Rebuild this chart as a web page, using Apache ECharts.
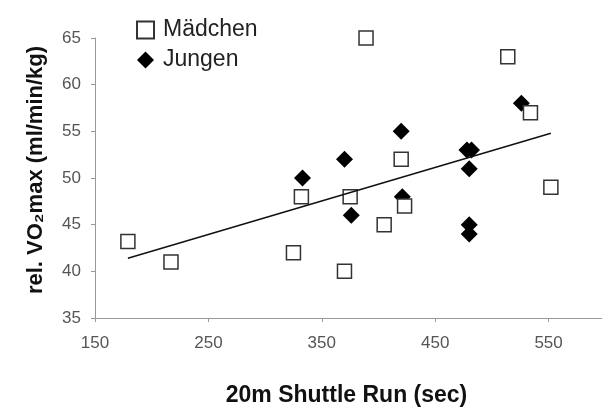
<!DOCTYPE html>
<html>
<head>
<meta charset="utf-8">
<script src="https://cdn.jsdelivr.net/npm/echarts@6/dist/echarts.min.js"></script>
<style>
  html, body { margin: 0; padding: 0; background: #fff; }
  #chart { width: 602px; height: 407px; }
</style>
</head>
<body>
<div id="chart"></div>
<script>
  // Mädchen (offene Quadrate): [Shuttle Run sec, VO2max]
  var maedchen = [
    [179, 43.2], [217, 41], [325, 42], [332, 48], [370, 40], [375, 48],
    [389, 65], [405, 45], [420, 52], [423, 47], [514, 63], [534, 57], [552, 49]
  ];
  // Jungen (Rauten)
  var jungen = [
    [333, 50], [370, 52], [376, 46], [420, 55], [421, 48],
    [478, 53], [482, 53], [480, 51], [480, 45], [480, 44], [526, 58]
  ];
  // Trendlinie, Endpunkte
  var trendX = [179, 552];
  var trendY = [41.4, 54.8];

  var xTicks = [150, 650, 100];   // min, max, interval
  var yTicks = [35, 65, 5];

  var font = 'Liberation Sans, Arial, sans-serif';

  var chart = echarts.init(document.getElementById('chart'));
  chart.setOption({
    animation: false,
    backgroundColor: '#fff',
    textStyle: { fontFamily: font },
    // rechter Rand absichtlich ausserhalb, die Achse laeuft im Original aus dem Bild
    grid: { left: 95, right: -60, top: 38, bottom: 89, outerBoundsMode: 'none' },
    legend: {
      data: ['Mädchen', 'Jungen'],
      orient: 'vertical',
      left: 131,
      top: 13,
      itemWidth: 17,
      itemHeight: 17,
      itemGap: 6,
      textStyle: { fontSize: 23, color: '#222', fontFamily: font, lineHeight: 24, padding: [0, 0, 0, 4] }
    },
    xAxis: {
      type: 'value',
      min: xTicks[0], max: xTicks[1], interval: xTicks[2],
      name: '20m Shuttle Run (sec)',
      nameLocation: 'middle',
      nameGap: 66,
      nameTextStyle: { fontSize: 23, fontWeight: 'bold', color: '#111', fontFamily: font, padding: [0, 64, 0, 0] },
      axisLine: { lineStyle: { color: '#999' } },
      axisTick: { length: 4, lineStyle: { color: '#999' } },
      axisLabel: { fontSize: 17, color: '#555', margin: 17 },
      splitLine: { show: false }
    },
    yAxis: {
      type: 'value',
      min: yTicks[0], max: yTicks[1], interval: yTicks[2],
      name: 'rel. VO₂max (ml/min/kg)',
      nameLocation: 'middle',
      nameGap: 48,
      nameTextStyle: { fontSize: 22, fontWeight: 'bold', color: '#111', fontFamily: font, padding: [0, 0, 0, 16] },
      axisLine: { show: true, lineStyle: { color: '#999' } },
      axisTick: { show: true, length: 4, lineStyle: { color: '#999' } },
      axisLabel: { fontSize: 17, color: '#555', margin: 14 },
      splitLine: { show: false }
    },
    series: [
      {
        name: 'Jungen',
        type: 'scatter',
        symbol: 'diamond',
        symbolSize: 17,
        z: 2,
        itemStyle: { color: '#000', opacity: 1 },
        data: jungen
      },
      {
        name: 'Mädchen',
        type: 'scatter',
        symbol: 'rect',
        symbolSize: 14,
        z: 3,
        itemStyle: { color: '#fff', borderColor: '#333', borderWidth: 1.5, opacity: 1 },
        data: maedchen
      },
      {
        name: 'Trend',
        type: 'line',
        showSymbol: false,
        z: 4,
        lineStyle: { color: '#111', width: 1.5 },
        data: trendX.map(function (x, i) { return [x, trendY[i]]; })
      }
    ]
  });
</script>
</body>
</html>
